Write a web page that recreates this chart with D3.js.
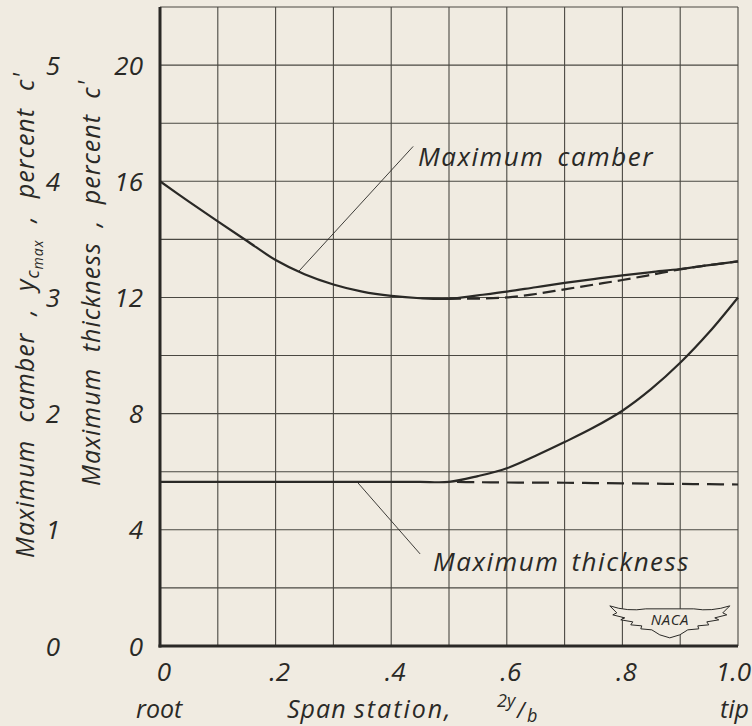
<!DOCTYPE html>
<html>
<head>
<meta charset="utf-8">
<script src="https://cdn.jsdelivr.net/npm/d3@7"></script>
<style>
  html, body { margin: 0; padding: 0; background: #f0ebe1; }
  svg { display: block; }
  text { font-family: "Open Sans", "DejaVu Sans", sans-serif; font-style: italic; fill: #2a2926; }
</style>
</head>
<body>
<svg id="chart" width="752" height="726"></svg>
<script>
// Span stations, 2y/b
const span = [0, 0.05, 0.1, 0.15, 0.2, 0.25, 0.3, 0.35, 0.4, 0.45, 0.5,
              0.55, 0.6, 0.65, 0.7, 0.75, 0.8, 0.85, 0.9, 0.95, 1.0];
const spanOutboard = [0.5, 0.55, 0.6, 0.65, 0.7, 0.75, 0.8, 0.85, 0.9, 0.95, 1.0];

// Maximum camber, percent c' (solid curve, root to tip)
const camber = [4.0, 3.825, 3.655, 3.488, 3.322, 3.2, 3.112, 3.05, 3.013, 2.993, 2.988,
                3.018, 3.05, 3.088, 3.125, 3.158, 3.19, 3.218, 3.245, 3.278, 3.31];
// Maximum camber, dashed outboard alternative
const camberDashed = [2.99, 2.99, 3.0, 3.03, 3.07, 3.11, 3.15, 3.195, 3.242, 3.278, 3.31];

// Maximum thickness, percent c' (solid curve, root to tip)
const thickness = [5.65, 5.65, 5.65, 5.65, 5.65, 5.65, 5.65, 5.65, 5.65, 5.65, 5.65,
                   5.85, 6.12, 6.55, 7.02, 7.52, 8.1, 8.85, 9.75, 10.8, 12.0];
// Maximum thickness, dashed outboard alternative
const thicknessDashed = [5.65, 5.64, 5.63, 5.625, 5.62, 5.61, 5.6, 5.59, 5.58, 5.57, 5.56];

// Axis tick labels
const spanTicks = [0, 0.2, 0.4, 0.6, 0.8, 1.0];
const spanTickLabels = ["0", ".2", ".4", ".6", ".8", "1.0"];
const thicknessTicks = [0, 4, 8, 12, 16, 20];
const camberTicks = [0, 1, 2, 3, 4, 5];

const ink = "#2a2926";
const gridInk = "#4a4842";
const paper = "#f0ebe1";

const svg = d3.select("#chart");

const x = d3.scaleLinear().domain([0, 1]).range([160, 738]);
const yT = d3.scaleLinear().domain([0, 22]).range([646, 7]);
const yC = d3.scaleLinear().domain([0, 5.5]).range([646, 7]);

// Spread the words of a text so that it covers a given length
function spreadWords(sel, target) {
  const node = sel.node();
  const natural = node.getComputedTextLength();
  const gaps = (node.textContent.match(/ /g) || []).length;
  if (gaps > 0) sel.attr("word-spacing", ((target - natural) / gaps).toFixed(2));
}

// Grid
const grid = svg.append("g");
grid.selectAll("line.v")
  .data(d3.range(1, 11).map(i => i / 10))
  .join("line")
  .attr("x1", d => x(d)).attr("x2", d => x(d))
  .attr("y1", yT(0)).attr("y2", yT(22))
  .attr("stroke", gridInk).attr("stroke-width", 1.1);
grid.selectAll("line.h")
  .data(d3.range(2, 23, 2))
  .join("line")
  .attr("x1", x(0)).attr("x2", x(1))
  .attr("y1", d => yT(d)).attr("y2", d => yT(d))
  .attr("stroke", gridInk).attr("stroke-width", 1.1);

// Axes (heavy left and bottom rules)
svg.append("line")
  .attr("x1", x(0)).attr("x2", x(0)).attr("y1", yT(0) + 1.5).attr("y2", yT(22))
  .attr("stroke", ink).attr("stroke-width", 3);
svg.append("line")
  .attr("x1", x(0) - 1.5).attr("x2", x(1)).attr("y1", yT(0)).attr("y2", yT(0))
  .attr("stroke", ink).attr("stroke-width", 3);

// NACA emblem (drawn over the grid)
const emblem = svg.append("g").attr("transform", `translate(${x(0.882)},${yT(0.9)})`);
emblem.append("path")
  .attr("d", "M-60,-14 Q-42,-8 -24,-11 L24,-11 Q42,-8 60,-14 L53,-7 L57,-5 L45,-2 L49,0 L37,2 L39,5 L28,6 L29,9 L18,10 L10,15 L0,18 L-10,15 L-18,10 L-29,9 L-28,6 L-39,5 L-37,2 L-49,0 L-45,-2 L-57,-5 L-53,-7 Z")
  .attr("fill", paper).attr("stroke", ink).attr("stroke-width", 1);
emblem.append("text").attr("y", 5).attr("text-anchor", "middle")
  .attr("font-size", 15).attr("font-style", "normal").attr("letter-spacing", 0.5).text("NACA");

// Curves
const lineC = d3.line().x(d => x(d[0])).y(d => yC(d[1])).curve(d3.curveCatmullRom.alpha(0.5));
const lineT = d3.line().x(d => x(d[0])).y(d => yT(d[1])).curve(d3.curveCatmullRom.alpha(0.5));

const curves = svg.append("g").attr("fill", "none").attr("stroke", ink);
curves.append("path").attr("d", lineC(d3.zip(span, camber))).attr("stroke-width", 2.2);
curves.append("path").attr("d", lineC(d3.zip(spanOutboard, camberDashed)))
  .attr("stroke-width", 2.2).attr("stroke-dasharray", "13,6").attr("stroke-dashoffset", -18);
curves.append("path").attr("d", lineT(d3.zip(span, thickness))).attr("stroke-width", 2.2);
curves.append("path").attr("d", lineT(d3.zip(spanOutboard, thicknessDashed)))
  .attr("stroke-width", 2.2).attr("stroke-dasharray", "17,8").attr("stroke-dashoffset", -8);

// Leader lines and curve labels
function lerp(xs, ys, s) {
  const i = Math.min(xs.length - 2, Math.max(0, d3.bisectRight(xs, s) - 1));
  const t = (s - xs[i]) / (xs[i + 1] - xs[i]);
  return ys[i] + t * (ys[i + 1] - ys[i]);
}
svg.append("line")
  .attr("x1", x(0.24)).attr("y1", yC(lerp(span, camber, 0.24)))
  .attr("x2", x(0.438)).attr("y2", yT(17.2))
  .attr("stroke", ink).attr("stroke-width", 0.9);
svg.append("line")
  .attr("x1", x(0.341)).attr("y1", yT(5.65))
  .attr("x2", x(0.45)).attr("y2", yT(3.17))
  .attr("stroke", ink).attr("stroke-width", 0.9);

spreadWords(svg.append("text").attr("x", 418).attr("y", 166)
  .attr("font-size", 26).attr("letter-spacing", 1.5).text("Maximum camber"), 236);
spreadWords(svg.append("text").attr("x", 433).attr("y", 571)
  .attr("font-size", 26).attr("letter-spacing", 1.5).text("Maximum thickness"), 257);

// Thickness tick labels
svg.append("g").selectAll("text")
  .data(thicknessTicks).join("text")
  .attr("x", 143).attr("y", d => yT(d) + 9.5)
  .attr("text-anchor", "end").attr("font-size", 26)
  .text(d => d);

// Camber tick labels
svg.append("g").selectAll("text")
  .data(camberTicks).join("text")
  .attr("x", 53).attr("y", d => yC(d) + 9.5)
  .attr("text-anchor", "middle").attr("font-size", 26)
  .text(d => d);

// Span tick labels
svg.append("g").selectAll("text")
  .data(spanTicks).join("text")
  .attr("x", (d, i) => i === spanTicks.length - 1 ? 751 : x(d) + 4)
  .attr("y", 681)
  .attr("text-anchor", (d, i) => i === spanTicks.length - 1 ? "end" : "middle")
  .attr("font-size", 26)
  .text((d, i) => spanTickLabels[i]);

// Span axis caption
svg.append("text").attr("x", 136).attr("y", 718).attr("font-size", 25).text("root");
svg.append("text").attr("x", 287).attr("y", 718).attr("font-size", 25)
  .attr("letter-spacing", 1).text("Span");
svg.append("text").attr("x", 354).attr("y", 718).attr("font-size", 25)
  .attr("letter-spacing", 2).text("station,");
svg.append("text").attr("x", 497).attr("y", 707).attr("font-size", 18).text("2y");
svg.append("text").attr("x", 517).attr("y", 718).attr("font-size", 22).text("/");
svg.append("text").attr("x", 527).attr("y", 722).attr("font-size", 18).text("b");
svg.append("text").attr("x", 749).attr("y", 718).attr("text-anchor", "end")
  .attr("font-size", 25).text("tip");

// Axis titles
const tTitle = svg.append("text")
  .attr("transform", `translate(100,486) rotate(-90)`)
  .attr("font-size", 25).attr("letter-spacing", 1);
tTitle.append("tspan").text("Maximum thickness ,  percent c");
tTitle.append("tspan").attr("dy", -4).text("'");
spreadWords(tTitle, 414);

const cTitle = svg.append("text")
  .attr("transform", `translate(34,558) rotate(-90)`)
  .attr("font-size", 25).attr("letter-spacing", 1);
cTitle.append("tspan").text("Maximum camber ,  y");
cTitle.append("tspan").attr("font-size", 18).attr("dy", 5).text("c");
cTitle.append("tspan").attr("font-size", 14).attr("dy", 4).text("max");
cTitle.append("tspan").attr("dy", -9).text(" ,  percent c");
cTitle.append("tspan").attr("dy", -3).text("'");
spreadWords(cTitle, 505);
</script>
</body>
</html>
